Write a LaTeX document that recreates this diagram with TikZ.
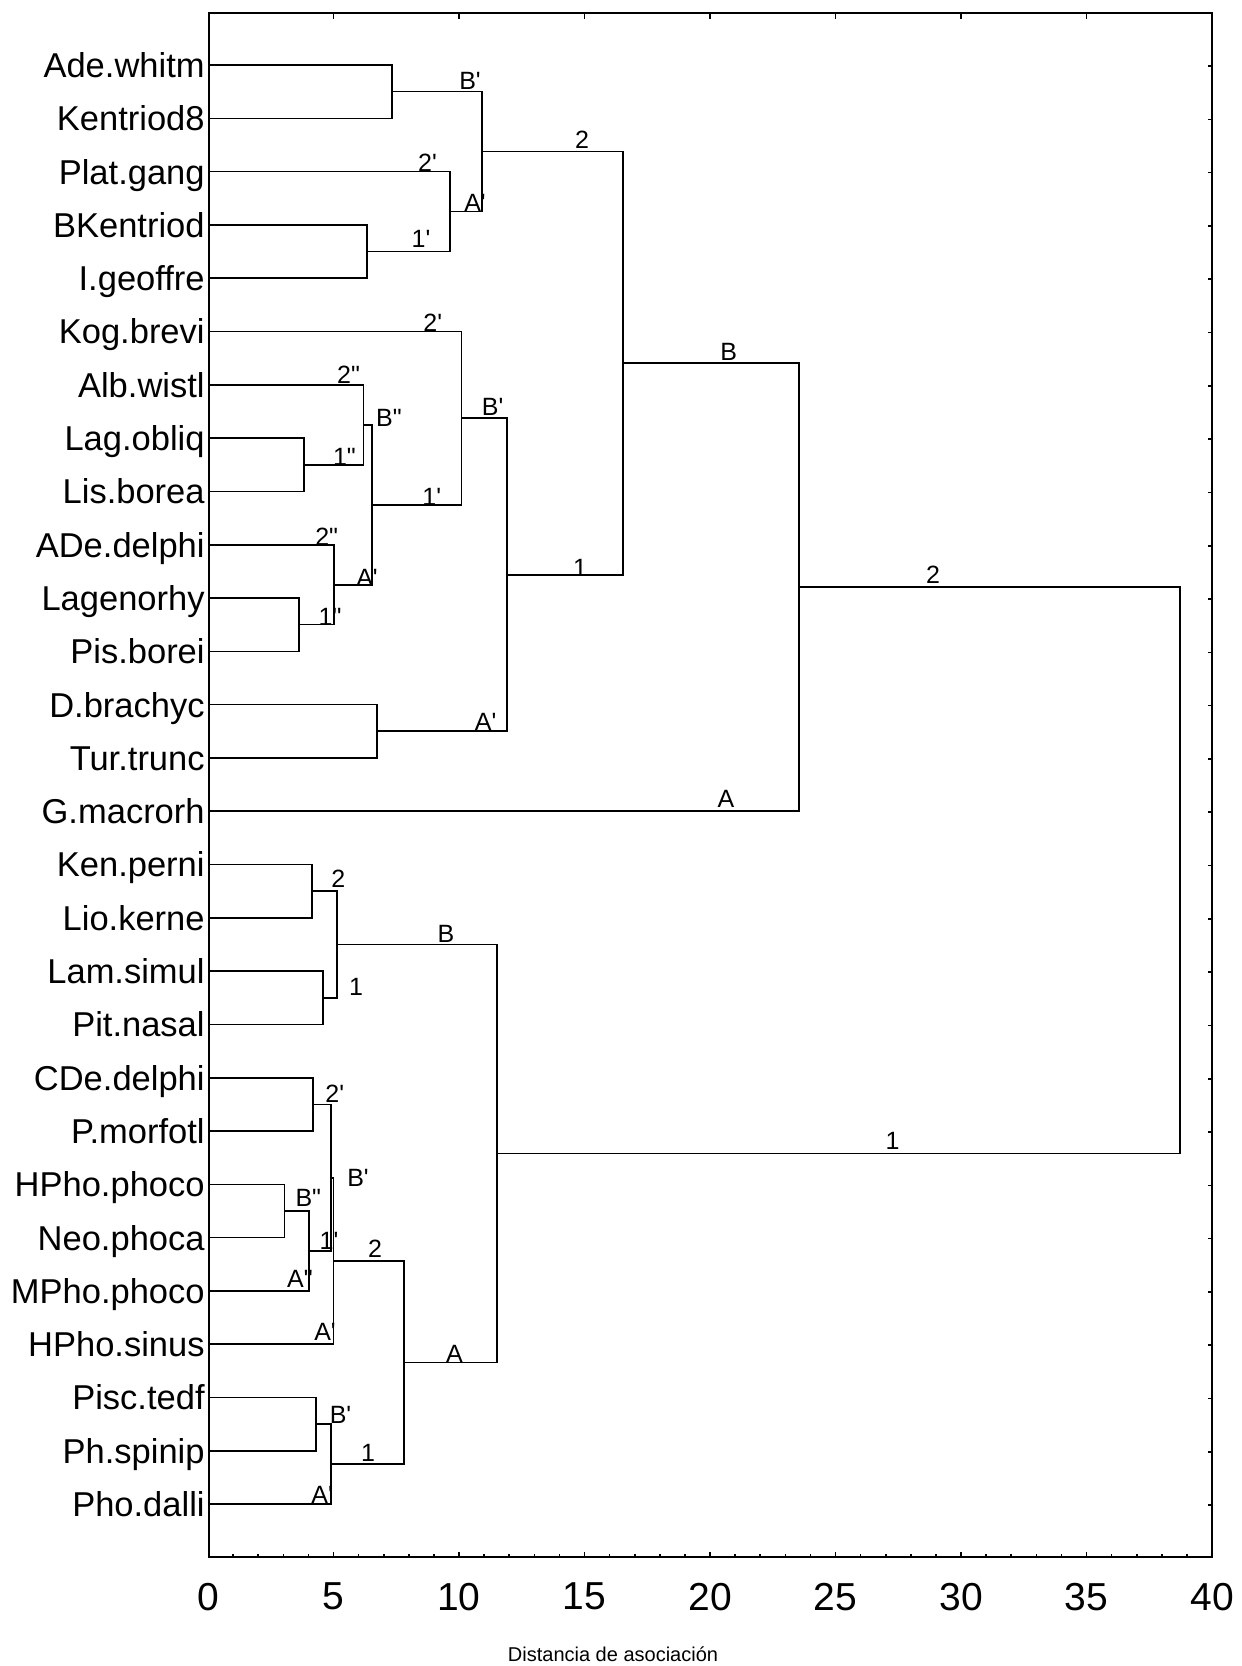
\documentclass[tikz,border=0pt]{standalone}
\usepackage{fontspec}
\setmainfont{Liberation Sans}
\newcommand{\qsgl}{\textquotesingle}
\newcommand{\qdbl}{\textquotedbl}
\tikzset{
  leaf/.style={anchor=base east, inner sep=0pt, font=\fontsize{17.25}{20}\selectfont},
  brl/.style={inner sep=0pt, font=\fontsize{12.5}{14}\selectfont},
  br/.style={line width=0.8pt},
  frm/.style={line width=1pt},
  tickmark/.style={line width=0.8pt},
  axnum/.style={inner sep=0pt, font=\fontsize{19.5}{22}\selectfont},
  axtitle/.style={inner sep=0pt, font=\fontsize{10}{12}\selectfont},
}
\begin{document}
\begin{tikzpicture}[x=0.5pt,y=-0.5pt]
\useasboundingbox (0,0) rectangle (1242,1666);
% frame
\draw[frm] (209,13.3) rectangle (1211.5,1557.3);
% ticks
\foreach \d in {1,...,39} \draw[tickmark] (208+25.1*\d,1557.3) -- ++(0,-3);
\foreach \d in {5,10,...,35} {
  \draw[tickmark] (208+25.1*\d,1557.3) -- ++(0,-5.5);
  \draw[tickmark] (208+25.1*\d,13.3) -- ++(0,6);
}
\foreach \i in {0,...,27} \draw[tickmark] (1211.5,66+53.3*\i) -- ++(-3.5,0);
% axis numbers
\foreach \v [count=\k from 0] in {0,5,10,15,20,25,30,35,40}
  \node[axnum] (ax\k) at (208+125.5*\k,1596.7) {\v};
\node[axtitle] (title) at (613,1654) {Distancia de asociación};
% leaves
\foreach \nm [count=\i from 0] in {Ade.whitm,Kentriod8,Plat.gang,BKentriod,I.geoffre,Kog.brevi,Alb.wistl,Lag.obliq,Lis.borea,ADe.delphi,Lagenorhy,Pis.borei,D.brachyc,Tur.trunc,G.macrorh,Ken.perni,Lio.kerne,Lam.simul,Pit.nasal,CDe.delphi,P.morfotl,HPho.phoco,Neo.phoca,MPho.phoco,HPho.sinus,Pisc.tedf,Ph.spinip,Pho.dalli} {
  \coordinate (L\i) at (209,65+53.3*\i);
  \node[leaf] (T\i) at (205,77.4+53.3*\i) {\nm};
}
% join points (top group)
\coordinate (J1) at (392.1,91.65);
\coordinate (J2) at (366.8,251.55);
\coordinate (J3) at (450.2,211.6);
\coordinate (J4) at (482.2,151.6);
\coordinate (J5) at (304.1,464.75);
\coordinate (J6) at (363.5,424.8);
\coordinate (J7) at (298.8,624.65);
\coordinate (J8) at (334,584.7);
\coordinate (J9) at (372.2,504.75);
\coordinate (J10) at (461.4,418.1);
\coordinate (J11) at (376.8,731.25);
\coordinate (J12) at (507,574.7);
\coordinate (J13) at (623.2,363.15);
\coordinate (J14) at (798.8,587.2);
% join points (bottom group)
\coordinate (K1) at (312,891.2);
\coordinate (K2) at (322.8,997.75);
\coordinate (K3) at (337,944.5);
\coordinate (K4) at (312.7,1104.35);
\coordinate (K5) at (284.3,1211);
\coordinate (K6) at (309,1251);
\coordinate (K7) at (331,1177.7);
\coordinate (K8) at (333.5,1261);
\coordinate (K9) at (315.7,1424.15);
\coordinate (K10) at (330.7,1464.1);
\coordinate (K11) at (404,1362.5);
\coordinate (K12) at (497,1153.5);
\coordinate (R) at (1180,870.3);
% branches
\draw[br] (L0) -| (J1) |- (L1);
\draw[br] (L3) -| (J2) |- (L4);
\draw[br] (L2) -| (J3) |- (J2);
\draw[br] (J1) -| (J4) |- (J3);
\draw[br] (L7) -| (J5) |- (L8);
\draw[br] (L6) -| (J6) |- (J5);
\draw[br] (L10) -| (J7) |- (L11);
\draw[br] (L9) -| (J8) |- (J7);
\draw[br] (J6) -| (J9) |- (J8);
\draw[br] (L5) -| (J10) |- (J9);
\draw[br] (L12) -| (J11) |- (L13);
\draw[br] (J10) -| (J12) |- (J11);
\draw[br] (J4) -| (J13) |- (J12);
\draw[br] (J13) -| (J14) |- (L14);
\draw[br] (L15) -| (K1) |- (L16);
\draw[br] (L17) -| (K2) |- (L18);
\draw[br] (K1) -| (K3) |- (K2);
\draw[br] (L19) -| (K4) |- (L20);
\draw[br] (L21) -| (K5) |- (L22);
\draw[br] (K5) -| (K6) |- (L23);
\draw[br] (K4) -| (K7) |- (K6);
\draw[br] (K7) -| (K8) |- (L24);
\draw[br] (L25) -| (K9) |- (L26);
\draw[br] (K9) -| (K10) |- (L27);
\draw[br] (K8) -| (K11) |- (K10);
\draw[br] (K3) -| (K12) |- (K11);
\draw[br] (J14) -| (R) |- (K12);
% branch labels (top group)
\node[brl] (b1) at (470,81) {B\qsgl};
\node[brl] (b2) at (427.5,163) {2\qsgl};
\node[brl] (b3) at (421,239) {1\qsgl};
\node[brl] (b4) at (475,203.3) {A\qsgl};
\node[brl] (b5) at (582,140) {2};
\node[brl] (b6) at (432.7,322.3) {2\qsgl};
\node[brl] (b7) at (348.5,375) {2\qdbl};
\node[brl] (b8) at (344.4,456.7) {1\qdbl};
\node[brl] (b9) at (389,418.3) {B\qdbl};
\node[brl] (b10) at (326.7,536.7) {2\qdbl};
\node[brl] (b11) at (330,616.7) {1\qdbl};
\node[brl] (b12) at (367,578) {A\qsgl};
\node[brl] (b13) at (431.7,497.3) {1\qsgl};
\node[brl] (b14) at (492.7,407) {B\qsgl};
\node[brl] (b15) at (485.6,722.3) {A\qsgl};
\node[brl] (b16) at (580,568.3) {1};
\node[brl] (b17) at (728.6,352.3) {B};
\node[brl] (b18) at (726,799) {A};
\node[brl] (b19) at (933,575) {2};
% branch labels (bottom group)
\node[brl] (c1) at (338.2,879.2) {2};
\node[brl] (c2) at (356,986.5) {1};
\node[brl] (c3) at (446,934.2) {B};
\node[brl] (c4) at (334.7,1094.2) {2\qsgl};
\node[brl] (c5) at (308.3,1198.3) {B\qdbl};
\node[brl] (c6) at (300,1279) {A\qdbl};
\node[brl] (c7) at (329,1241) {1\qsgl};
\node[brl] (c8) at (358,1177.5) {B\qsgl};
\node[brl] (c9) at (325,1331.7) {A\qsgl};
\node[brl] (c10) at (375,1249) {2};
\node[brl] (c11) at (340.5,1414.5) {B\qsgl};
\node[brl] (c12) at (322.2,1494.5) {A\qsgl};
\node[brl] (c13) at (368,1452.8) {1};
\node[brl] (c14) at (454.5,1354.2) {A};
\node[brl] (c15) at (892.5,1141) {1};
\end{tikzpicture}
\end{document}
